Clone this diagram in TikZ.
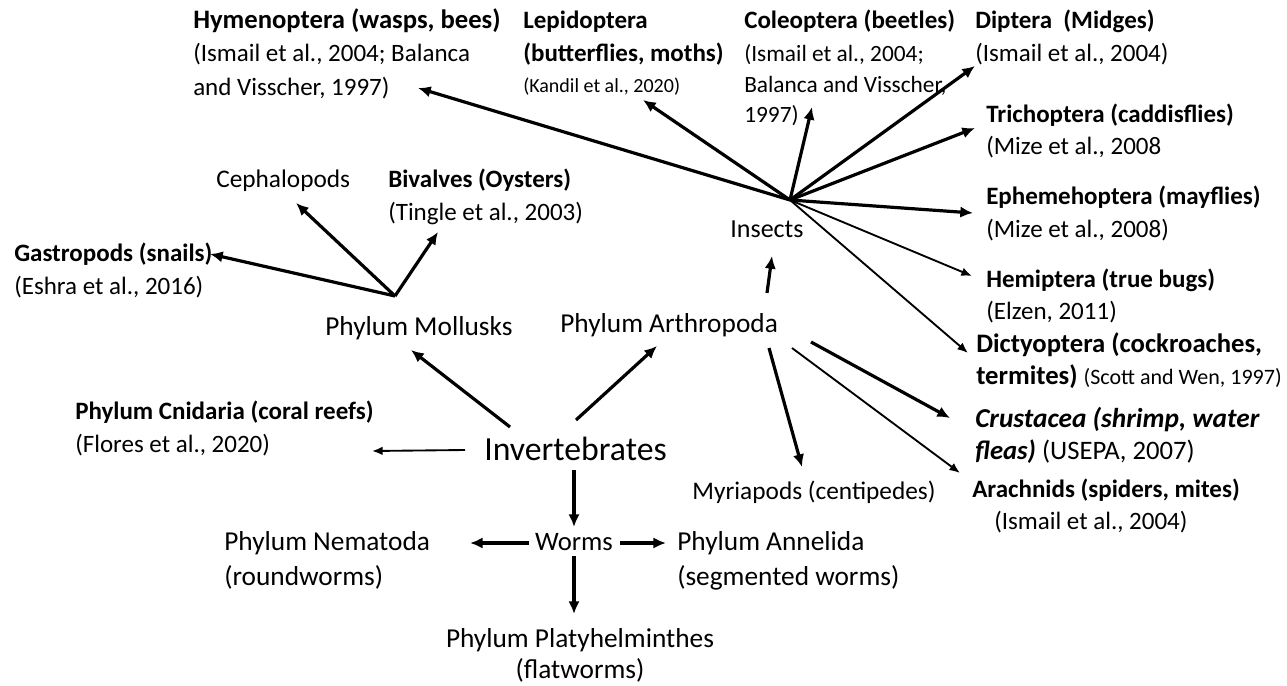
\documentclass[tikz,border=0pt]{standalone}
\usepackage{fontspec}
\setmainfont{Carlito}
\usetikzlibrary{arrows.meta}
\newcommand{\fsz}[1]{\fontsize{#1}{#1}\selectfont}
\begin{document}
\begin{tikzpicture}[x=0.75pt,y=-0.75pt,
  txt/.style={anchor=base west,inner sep=0pt,font=\fsz{18.75}},
  txtb/.style={txt,font=\fsz{18.75}\bfseries},
  txts/.style={txt,font=\fsz{15}},
  txtm/.style={txt,font=\fsz{17.5}},
  txtp/.style={txt,font=\fsz{20.5}},
  ctr/.style={anchor=base},
  thick arr/.style={line width=2.4pt,-{Latex[length=9.5pt,width=8.5pt]}},
  thin arr/.style={line width=1.4pt,-{Latex[length=8pt,width=6.5pt]}}]
\useasboundingbox (0,0) rectangle (1287,685);
% ---------- texts ----------
\node[txtb,font=\fsz{20}\bfseries] (hymA) at (193,29) {Hymenoptera (wasps, bees)};
\node[txt]  (hymB) at (193,62) {(Ismail et al., 2004; Balanca};
\node[txt]  (hymC) at (193,95) {and Visscher, 1997)};
\node[txtb] (lepA) at (523,29) {Lepidoptera};
\node[txtb] (lepB) at (523,62) {(butterflies, moths)};
\node[txts] (lepC) at (523,92) {(Kandil et al., 2020)};
\node[txtb] (colA) at (744,29) {Coleoptera (beetles)};
\node[txtm] (colB) at (744,62) {(Ismail et al., 2004;};
\node[txtm] (colC) at (744,92) {Balanca and Visscher,};
\node[txtm] (colD) at (744,122) {1997)};
\node[txtb] (dipA) at (975,29) {Diptera\ \ (Midges)};
\node[txt]  (dipB) at (975,62) {(Ismail et al., 2004)};
\node[txtb] (triA) at (986,122) {Trichoptera (caddisflies)};
\node[txt]  (triB) at (986,154) {(Mize et al., 2008};
\node[txtb] (ephA) at (986,204) {Ephemehoptera (mayflies)};
\node[txt]  (ephB) at (986,237) {(Mize et al., 2008)};
\node[txt,ctr,font=\fsz{19.5}] (ins) at (767,237) {Insects};
\node[txtb] (hemA) at (986,287) {Hemiptera (true bugs)};
\node[txt]  (hemB) at (986,319) {(Elzen, 2011)};
\node[txtb,font=\fsz{20}\bfseries] (dicA) at (976,352) {Dictyoptera (cockroaches,};
\node[txt,font=\fsz{20}]  (dicB) at (976,384) {\textbf{termites)} {\fsz{16.5}(Scott and Wen, 1997)}};
\node[txtb,font=\fsz{20.5}\bfseries\itshape] (cruA) at (975,427) {Crustacea (shrimp, water};
\node[txt,font=\fsz{20}]  (cruB) at (975,459) {\textbf{\itshape fleas)} (USEPA, 2007)};
\node[txtb] (araA) at (972,497) {Arachnids (spiders, mites)};
\node[txt]  (araB) at (994,529) {(Ismail et al., 2004)};
\node[txt,ctr,font=\fsz{19}] (myr) at (814,499) {Myriapods (centipedes)};
\node[txtp] (arth) at (560,332) {Phylum Arthropoda};
\node[txtp] (moll) at (325,335) {Phylum Mollusks};
\node[txt,font=\fsz{19}]  (ceph) at (216,187) {Cephalopods};
\node[txtb] (bivA) at (388,187) {Bivalves (Oysters)};
\node[txt]  (bivB) at (388,220) {(Tingle et al., 2003)};
\node[txtb] (gasA) at (14,261) {Gastropods (snails)};
\node[txt]  (gasB) at (14,294) {(Eshra et al., 2016)};
\node[txtb] (cniA) at (75,419) {Phylum Cnidaria (coral reefs)};
\node[txt]  (cniB) at (75,452) {(Flores et al., 2020)};
\node[txt,font=\fsz{25.3}] (inv) at (484,460) {Invertebrates};
\node[txt,ctr,font=\fsz{20}] (worms) at (574,550) {Worms};
\node[txtp] (nemA) at (224,550) {Phylum Nematoda};
\node[txtp] (nemB) at (224,585) {(roundworms)};
\node[txtp] (annA) at (677,550) {Phylum Annelida};
\node[txtp] (annB) at (677,585) {(segmented worms)};
\node[txtp,ctr] (plaA) at (580,647) {Phylum Platyhelminthes};
\node[txtp,ctr] (plaB) at (580,678) {(flatworms)};
% ---------- connector points ----------
\coordinate (invNW) at (510,427);  \coordinate (mollS) at (411,350);
\coordinate (invNE) at (576,420);  \coordinate (arthS) at (657,346);
\coordinate (invW)  at (465,450);  \coordinate (cniE)  at (372,451);
\coordinate (invS)  at (574,470);  \coordinate (wormsN) at (574,527);
\coordinate (wormsW) at (529,543); \coordinate (nemE)  at (470,543);
\coordinate (wormsE) at (620,543); \coordinate (annW)  at (666,543);
\coordinate (wormsS) at (574,556); \coordinate (plaN)  at (574,614);
\coordinate (mollHub) at (395,296);
\coordinate (gasE) at (210,254); \coordinate (cephS) at (296,203); \coordinate (bivS) at (438,232);
\coordinate (arthN) at (767,293); \coordinate (insS) at (772,256);
\coordinate (arthSE1) at (769,348); \coordinate (myrN) at (802,467);
\coordinate (arthSE2) at (811,342); \coordinate (cruW) at (950,418);
\coordinate (arthSE3) at (792,348); \coordinate (araW) at (960,473);
\coordinate (insHub) at (790,200);
\coordinate (hymT) at (418,88); \coordinate (lepT) at (643,100); \coordinate (colT) at (812,107);
\coordinate (dipT) at (975,66); \coordinate (triT) at (975,128); \coordinate (ephT) at (973,213);
\coordinate (hemT) at (972,276); \coordinate (dicT) at (968,353);
% ---------- connectors ----------
\draw[thick arr] (invNW) -- (mollS);
\draw[thick arr] (invNE) -- (arthS);
\draw[thin arr]  (invW) -- (cniE);
\draw[thick arr] (invS) -- (wormsN);
\draw[thick arr] (wormsW) -- (nemE);
\draw[thick arr] (wormsE) -- (annW);
\draw[thick arr] (wormsS) -- (plaN);
\draw[thick arr] (mollHub) -- (gasE);
\draw[thick arr] (mollHub) -- (cephS);
\draw[thick arr] (mollHub) -- (bivS);
\draw[thick arr] (arthN) -- (insS);
\draw[thick arr] (arthSE1) -- (myrN);
\draw[thick arr] (arthSE2) -- (cruW);
\draw[thin arr]  (arthSE3) -- (araW);
\draw[thick arr] (insHub) -- (hymT);
\draw[thick arr] (insHub) -- (lepT);
\draw[thick arr] (insHub) -- (colT);
\draw[thick arr] (insHub) -- (dipT);
\draw[thick arr] (insHub) -- (triT);
\draw[thick arr] (insHub) -- (ephT);
\draw[thin arr]  (insHub) -- (hemT);
\draw[thin arr]  (insHub) -- (dicT);
\end{tikzpicture}
\end{document}
